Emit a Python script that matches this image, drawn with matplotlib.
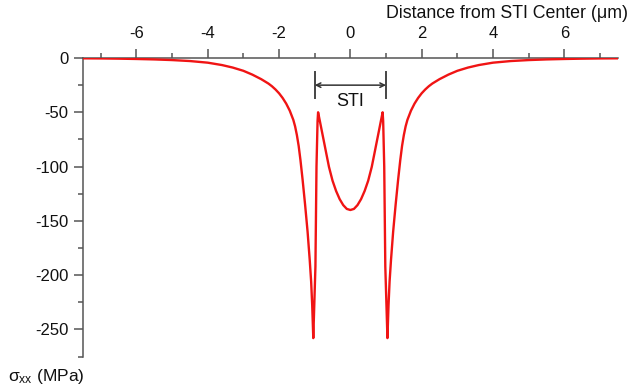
"""sigma_xx stress profile across an STI region"""

import matplotlib
matplotlib.use("Agg")
import matplotlib.pyplot as plt
from matplotlib.ticker import MultipleLocator

plt.rcParams['font.family'] = ['Liberation Sans', 'DejaVu Sans']
plt.rcParams['mathtext.fontset'] = 'custom'
plt.rcParams['mathtext.rm'] = 'Liberation Sans'
plt.rcParams['mathtext.it'] = 'Liberation Sans:italic'

# distance from STI center (um) and sigma_xx (MPa)
distance = [
    -7.50, -7.00, -6.50, -6.00, -5.50, -5.00, -4.50, -4.00, -3.60, -3.30,
    -3.00, -2.75, -2.50, -2.30, -2.20, -2.10, -2.00, -1.90, -1.80, -1.70,
    -1.60, -1.55, -1.50, -1.45, -1.40, -1.34, -1.27, -1.20, -1.14, -1.10,
    -1.07, -1.04,
    -0.98, -0.95, -0.92, -0.905, -0.89, -0.85, -0.80, -0.74, -0.67, -0.60,
    -0.50, -0.40, -0.30, -0.20, -0.10, 0.00,
    0.10, 0.20, 0.30, 0.40, 0.50, 0.60, 0.67, 0.74, 0.80, 0.85,
    0.89, 0.905, 0.92, 0.95, 0.98,
    1.04, 1.07, 1.10, 1.14, 1.20, 1.27, 1.34, 1.40, 1.45, 1.50,
    1.55, 1.60, 1.70, 1.80, 1.90, 2.00, 2.10, 2.20, 2.30, 2.50,
    2.75, 3.00, 3.30, 3.60, 4.00, 4.50, 5.00, 5.50, 6.00, 6.50,
    7.00, 7.50,
]
sigma_xx = [
    -0.3, -0.4, -0.6, -0.9, -1.3, -1.9, -2.8, -4.3, -6.5, -8.8,
    -11.8, -15.3, -19.5, -23.5, -26.0, -29.0, -32.5, -36.8, -42.0, -48.5,
    -57.0, -63.0, -71.0, -81.0, -94.0, -112.0, -135.0, -160.0, -186.0, -206.0,
    -228.0, -258.0,
    -192.0, -100.0, -58.0, -50.0, -52.5, -59.0, -67.3, -77.2, -88.8, -100.3,
    -113.0, -122.5, -130.0, -135.5, -139.0, -140.0,
    -139.0, -135.5, -130.0, -122.5, -113.0, -100.3, -88.8, -77.2, -67.3, -59.0,
    -52.5, -50.0, -58.0, -100.0, -192.0,
    -258.0, -228.0, -206.0, -186.0, -160.0, -135.0, -112.0, -94.0, -81.0, -71.0,
    -63.0, -57.0, -48.5, -42.0, -36.8, -32.5, -29.0, -26.0, -23.5, -19.5,
    -15.3, -11.8, -8.8, -6.5, -4.3, -2.8, -1.9, -1.3, -0.9, -0.6,
    -0.4, -0.3,
]

x_ticks = [-6, -4, -2, 0, 2, 4, 6]
y_ticks = [0, -50, -100, -150, -200, -250]
sti_edges = (-1.0, 1.0)

fig = plt.figure(figsize=(6.31, 3.88), dpi=100)
ax = fig.add_axes([0.1315, 0.081, 0.8475, 0.7695])

ax.plot(distance, sigma_xx, color='#f01414', lw=1.7, zorder=3)

ax.set_xlim(-7.5, 7.5)
ax.set_ylim(-275, 0)

axis_grey = '#555555'
for side in ('right', 'bottom'):
    ax.spines[side].set_visible(False)
for side in ('left', 'top'):
    ax.spines[side].set_color(axis_grey)
    ax.spines[side].set_linewidth(1.1)

ax.xaxis.tick_top()
ax.set_xticks(x_ticks)
ax.set_xticklabels([str(t) for t in x_ticks])
ax.xaxis.set_minor_locator(MultipleLocator(1))
ax.set_yticks(y_ticks)
ax.set_yticklabels([str(t) for t in y_ticks])
ax.yaxis.set_minor_locator(MultipleLocator(25))
ax.tick_params(which='major', direction='out', length=6.5, width=1.1,
               color=axis_grey, labelsize=12, labelcolor='#111111')
ax.tick_params(which='minor', direction='out', length=3.5, width=1.1,
               color=axis_grey)
ax.tick_params(axis='x', which='both', top=True, bottom=False, pad=6)
ax.tick_params(axis='y', which='major', pad=4)

# STI width marker
for edge in sti_edges:
    ax.plot([edge, edge], [-12.5, -37], color='#444444', lw=1.4, zorder=2)
ax.annotate('', xy=(sti_edges[0], -25), xytext=(sti_edges[1], -25),
            arrowprops=dict(arrowstyle='<->', color='#333333', lw=1.1,
                            shrinkA=0, shrinkB=0, mutation_scale=8))
ax.text(0, -32, 'STI', ha='center', va='top', fontsize=13, color='#111111')

fig.text(0.996, 0.966, 'Distance from STI Center (\u03bcm)', ha='right',
         va='center', fontsize=12.8, color='#111111')
fig.text(0.012, 0.03, r'$\mathregular{\sigma_{xx}}$ (MPa)', ha='left',
         va='center', fontsize=12.5, color='#111111')

fig.savefig('out.png', dpi=100)
